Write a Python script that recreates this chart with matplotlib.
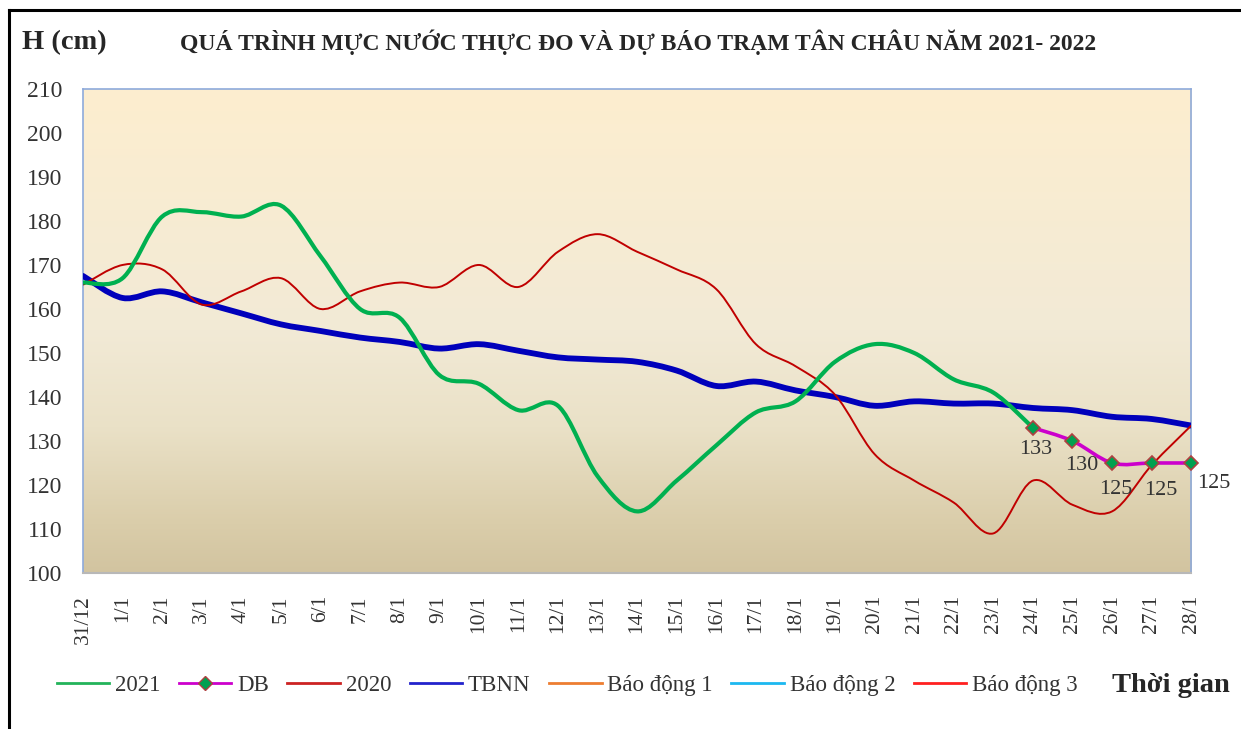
import numpy as np
import matplotlib
matplotlib.use('Agg')
from matplotlib import pyplot as plt
from matplotlib.path import Path
from matplotlib.patches import PathPatch
from matplotlib.lines import Line2D
from matplotlib.colors import LinearSegmentedColormap

plt.rcParams['font.family'] = ['Liberation Serif', 'DejaVu Serif']

dates = ['31/12', '1/1', '2/1', '3/1', '4/1', '5/1', '6/1', '7/1', '8/1', '9/1',
         '10/1', '11/1', '12/1', '13/1', '14/1', '15/1', '16/1', '17/1', '18/1',
         '19/1', '20/1', '21/1', '22/1', '23/1', '24/1', '25/1', '26/1', '27/1', '28/1']

# observed 2021-2022 (to 24/1)
h_2021 = [166, 167, 181, 182, 181, 183.5, 172, 160, 158, 145, 143, 137, 138, 122,
          114, 121, 129, 136.5, 139, 148, 152, 150, 144, 141, 133]
# forecast 24/1 -> 28/1
db_idx = [24, 25, 26, 27, 28]
h_db = [133, 130, 125, 125, 125]
h_2020 = [165.5, 170, 169, 161, 164, 167, 160, 164, 166, 165, 170, 165, 173, 177,
          173, 169, 164.5, 152, 147, 140.5, 127, 121, 116, 109, 121, 115.5, 114,
          124.5, 133.5]
h_tbnn = [167.5, 162.5, 164, 161.5, 159, 156.5, 155, 153.5, 152.5, 151, 152, 150.5,
          149, 148.5, 148, 146, 142.5, 143.5, 141.5, 140, 138, 139, 138.5, 138.5,
          137.5, 137, 135.5, 135, 133.5]
# alarm levels (off scale)
bd1, bd2, bd3 = 350, 400, 450


def smooth_path(x, y):
    # Excel-like smoothed line: cubic bezier through every point
    pts = np.column_stack([x, y]).astype(float)
    verts = [pts[0]]
    codes = [Path.MOVETO]
    n = len(pts)
    for i in range(n - 1):
        p0 = pts[i - 1] if i > 0 else pts[i]
        p1 = pts[i]
        p2 = pts[i + 1]
        p3 = pts[i + 2] if i + 2 < n else pts[i + 1]
        c1 = p1 + (p2 - p0) / 6.0
        c2 = p2 - (p3 - p1) / 6.0
        verts += [c1, c2, p2]
        codes += [Path.CURVE4] * 3
    return Path(verts, codes)


def smooth_line(ax, x, y, **kw):
    ax.add_patch(PathPatch(smooth_path(x, y), fill=False, **kw))


fig = plt.figure(figsize=(12.41, 7.29), dpi=100)
ax = fig.add_axes([0.0669, 0.214, 0.893, 0.664])

xs = np.arange(len(dates))
ax.set_xlim(0, len(dates) - 1)
ax.set_ylim(100, 210)

cmap = LinearSegmentedColormap.from_list('bg', [
    (0.0, '#D2C4A0'), (0.1, '#DACDAA'), (0.3, '#EAE1C7'), (0.5, '#F2EAD6'),
    (1.0, '#FDEECF')])
grad = np.linspace(0, 1, 256).reshape(-1, 1)
ax.imshow(grad, extent=[0, len(dates) - 1, 100, 210], origin='lower',
          aspect='auto', cmap=cmap, zorder=0)

c2021 = '#00B050'
cdb = '#CC00CC'
c2020 = '#C00000'
ctb = '#0000BB'

smooth_line(ax, xs, h_tbnn, edgecolor=ctb, linewidth=4.2, zorder=3,
            capstyle='round', joinstyle='round')
smooth_line(ax, xs, h_2020, edgecolor=c2020, linewidth=1.4, zorder=4)
smooth_line(ax, xs[:len(h_2021)], h_2021, edgecolor=c2021, linewidth=3.0, zorder=5,
            capstyle='round', joinstyle='round')
smooth_line(ax, db_idx, h_db, edgecolor=cdb, linewidth=2.6, zorder=6)
ax.plot(db_idx, h_db, linestyle='none', marker='D', markersize=7,
        markerfacecolor='#00A050', markeredgecolor='#B04040', markeredgewidth=1.2,
        zorder=7, clip_on=False)
lab_off = [(2, -16), (7, -18), (3, -19), (6.5, -19.5), (16.5, -15)]
for (xi, v), off in zip(zip(db_idx, h_db), lab_off):
    ax.annotate(f'{v:g}', (xi, v), xytext=off, textcoords='offset points',
                ha='center', va='center', fontsize=16, color='#333333', zorder=8,
                annotation_clip=False)

for yv, c in [(bd1, '#ED7D31'), (bd2, '#00B0F0'), (bd3, '#FF0000')]:
    ax.plot(xs, [yv] * len(xs), color=c, linewidth=1.5)

ax.set_yticks(np.arange(100, 211, 10))
ax.set_xticks(xs)
ax.set_xticklabels(dates, rotation=90, va='top', ha='center')
ax.tick_params(axis='both', length=0, colors='#333333')
ax.tick_params(axis='x', pad=16, labelsize=15.5)
ax.tick_params(axis='y', pad=15, labelsize=17)
for s in ['left', 'right', 'top']:
    ax.spines[s].set_color('#8EAADB')
    ax.spines[s].set_linewidth(1.2)
ax.spines['bottom'].set_color('#B8B8B8')
ax.spines['bottom'].set_linewidth(1.5)

fig.text(0.018, 0.942, 'H (cm)', fontsize=20.5, fontweight='bold', color='#262626',
         va='center', ha='left')
fig.text(0.514, 0.942, 'QUÁ TRÌNH MỰC NƯỚC THỰC ĐO VÀ DỰ BÁO TRẠM TÂN CHÂU NĂM 2021- 2022',
         fontsize=17, fontweight='bold', color='#262626', va='center', ha='center')
fig.text(0.991, 0.06, 'Thời gian', fontsize=20.5, fontweight='bold', color='#262626',
         va='center', ha='right')

handles = [
    Line2D([], [], color='#22B35A', linewidth=2),
    Line2D([], [], color=cdb, linewidth=2, marker='D', markersize=7,
           markerfacecolor='#00A050', markeredgecolor='#B04040'),
    Line2D([], [], color='#CC2222', linewidth=2),
    Line2D([], [], color='#2222CC', linewidth=2),
    Line2D([], [], color='#ED7D31', linewidth=2),
    Line2D([], [], color='#1CB8F0', linewidth=2),
    Line2D([], [], color='#FF2020', linewidth=2),
]
labels = ['2021', 'DB', '2020', 'TBNN', 'Báo động 1', 'Báo động 2', 'Báo động 3']
fig.legend(handles, labels, loc='center', bbox_to_anchor=(0.457, 0.06), ncol=7,
           frameon=False, fontsize=16.5, handlelength=2.3, handletextpad=0.25,
           columnspacing=0.8, labelcolor='#333333')

# outer chart frame
fig.add_artist(Line2D([0.007, 0.007], [0.0, 0.986], color='black', linewidth=2.2,
                      transform=fig.transFigure))
fig.add_artist(Line2D([0.007, 1.0], [0.986, 0.986], color='black', linewidth=2.2,
                      transform=fig.transFigure))

fig.savefig('out.png', dpi=100)
